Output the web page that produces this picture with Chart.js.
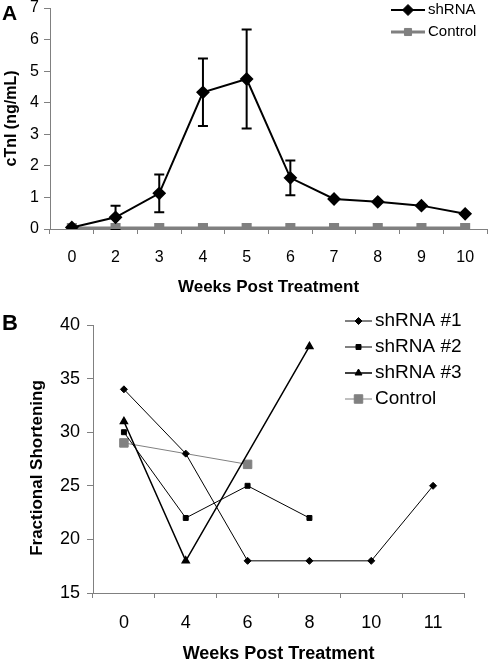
<!DOCTYPE html>
<html>
<head>
<meta charset="utf-8">
<script src="https://cdn.jsdelivr.net/npm/chart.js@4.4.1/dist/chart.umd.min.js"></script>
<style>
  body { margin: 0; background: #fff; width: 495px; height: 663px; position: relative; overflow: hidden; font-family: "Liberation Sans", Arial, sans-serif; }
  canvas { position: absolute; left: 0; }
  #chartA { top: 0; }
  #chartB { top: 300px; }
  .tag { position: absolute; left: 2px; font-weight: bold; line-height: 1; }
</style>
</head>
<body>
<canvas id="chartA" width="495" height="300"></canvas>
<canvas id="chartB" width="495" height="363"></canvas>
<div class="tag" style="top:2px;font-size:21px">A</div>
<div class="tag" style="top:312px;font-size:22px">B</div>
<script>
// --- data: panel A (cTnI) ---
const weeksA = ['0', '2', '3', '4', '5', '6', '7', '8', '9', '10'];
const shrnaA = [0.05, 0.37, 1.13, 4.33, 4.75, 1.62, 0.95, 0.86, 0.74, 0.48];
const shrnaErrA = [0, 0.37, 0.6, 1.07, 1.57, 0.55, 0, 0, 0, 0];
const controlA = [0.03, 0.03, 0.03, 0.03, 0.03, 0.03, 0.03, 0.03, 0.03, 0.03];

// --- data: panel B (fractional shortening) ---
const weeksB = ['0', '4', '6', '8', '10', '11'];
const shrna1B = [34, 28, 18, 18, 18, 25];
const shrna2B = [30, 22, 25, 22, null, null];
const shrna3B = [31, 18, null, 38, null, null];
const controlB = [29, null, 27, null, null, null];

const FONT = '"Liberation Sans", Arial, sans-serif';
const GREY = '#808080';

function drawMarker(ctx, style, x, y, r) {
    ctx.beginPath();
    if (style === 'rectRot') {
        ctx.moveTo(x, y - r); ctx.lineTo(x + r, y); ctx.lineTo(x, y + r); ctx.lineTo(x - r, y);
    } else if (style === 'rect') {
        const s = r * Math.SQRT1_2;
        ctx.rect(x - s, y - s, 2 * s, 2 * s);
    } else if (style === 'triangle') {
        ctx.moveTo(x, y - r); ctx.lineTo(x + r * 0.87, y + r * 0.5); ctx.lineTo(x - r * 0.87, y + r * 0.5);
    }
    ctx.closePath();
    ctx.fill();
    ctx.stroke();
}

// error bars, drawn under the markers
const errorBars = {
    id: 'errorBars',
    beforeDatasetsDraw(chart, args, opts) {
        if (!opts.errors) return;
        const ctx = chart.ctx;
        const ds = chart.data.datasets[opts.datasetIndex];
        const meta = chart.getDatasetMeta(opts.datasetIndex);
        const y = chart.scales.y;
        ctx.save();
        ctx.strokeStyle = '#000';
        ctx.lineWidth = 2;
        meta.data.forEach((pt, i) => {
            const e = opts.errors[i];
            if (!e) return;
            const top = y.getPixelForValue(ds.data[i] + e);
            const bot = y.getPixelForValue(Math.max(ds.data[i] - e, 0));
            ctx.beginPath();
            ctx.moveTo(pt.x, top); ctx.lineTo(pt.x, bot);
            ctx.moveTo(pt.x - 5, top); ctx.lineTo(pt.x + 5, top);
            ctx.moveTo(pt.x - 5, bot); ctx.lineTo(pt.x + 5, bot);
            ctx.stroke();
        });
        ctx.restore();
    }
};

// Excel-like legend: line sample + marker + label
const lineLegend = {
    id: 'lineLegend',
    afterDraw(chart, args, opts) {
        if (!opts.display) return;
        const ctx = chart.ctx;
        ctx.save();
        ctx.font = opts.font;
        ctx.textBaseline = 'middle';
        chart.data.datasets.forEach((ds, i) => {
            const y = opts.y + i * opts.rowHeight;
            ctx.strokeStyle = ds.borderColor;
            ctx.lineWidth = ds.borderWidth;
            ctx.beginPath();
            ctx.moveTo(opts.x, y); ctx.lineTo(opts.x + opts.lineLen, y);
            ctx.stroke();
            ctx.fillStyle = ds.pointBackgroundColor;
            ctx.strokeStyle = ds.pointBorderColor;
            ctx.lineWidth = 1;
            drawMarker(ctx, ds.pointStyle, opts.x + opts.lineLen / 2, y, ds.pointRadius);
            ctx.fillStyle = '#000';
            ctx.fillText(ds.label, opts.x + opts.lineLen + 3, y);
        });
        ctx.restore();
    }
};

// rotated y title that can sit off the plot's centre
const yTitle = {
    id: 'yTitle',
    afterDraw(chart, args, opts) {
        if (!opts.text) return;
        const {ctx, chartArea} = chart;
        ctx.save();
        ctx.translate(opts.x, (chartArea.top + chartArea.bottom) / 2 + opts.dy);
        ctx.rotate(-Math.PI / 2);
        ctx.font = opts.font;
        ctx.textAlign = 'center';
        ctx.textBaseline = 'middle';
        ctx.fillStyle = '#000';
        ctx.fillText(opts.text, 0, 0);
        ctx.restore();
    }
};

function categoryAxis(labels, fontSize, pad, title, titleSize, titlePad, height) {
    return {
        type: 'category',
        labels: labels,
        offset: true,
        grid: { offset: true, drawOnChartArea: false, tickLength: 5, color: GREY },
        border: { color: GREY, width: 1 },
        ticks: { color: '#000', font: { family: FONT, size: fontSize }, padding: pad, maxRotation: 0, autoSkip: false },
        title: { display: true, text: title, color: '#000', font: { family: FONT, size: titleSize, weight: 'bold', lineHeight: 1 }, padding: { top: 0, bottom: titlePad } },
        afterFit: s => { s.height = height; s.paddingLeft = 0; s.paddingRight = 0; }
    };
}

function valueAxis(min, max, step, fontSize, pad, title, titleSize, titlePad, width) {
    return {
        min: min, max: max,
        grid: { drawOnChartArea: false, tickLength: 6, color: GREY },
        border: { color: GREY, width: 1 },
        ticks: { stepSize: step, color: '#000', font: { family: FONT, size: fontSize }, padding: pad },
        title: { display: !!title, text: title || '', color: '#000', font: { family: FONT, size: titleSize, weight: 'bold', lineHeight: 1 }, padding: { top: titlePad, bottom: 0 } },
        afterFit: s => { s.width = width; s.paddingTop = 0; s.paddingBottom = 0; }
    };
}

// --- Panel A ---
new Chart(document.getElementById('chartA'), {
    type: 'line',
    data: {
        labels: weeksA,
        datasets: [
            {
                label: 'shRNA',
                data: shrnaA,
                borderColor: '#000',
                borderWidth: 2,
                pointStyle: 'rectRot',
                pointRadius: 5.5,
                pointBackgroundColor: '#000',
                pointBorderColor: '#000',
                tension: 0
            },
            {
                label: 'Control',
                data: controlA,
                borderColor: GREY,
                borderWidth: 3,
                pointStyle: 'rect',
                pointRadius: 5,
                pointBackgroundColor: GREY,
                pointBorderColor: GREY,
                tension: 0
            }
        ]
    },
    options: {
        responsive: false,
        animation: false,
        devicePixelRatio: 1,
        layout: { padding: { top: 7, right: 3, left: 0, bottom: 0 } },
        plugins: {
            legend: { display: false },
            tooltip: { enabled: false },
            errorBars: { datasetIndex: 0, errors: shrnaErrA },
            lineLegend: { display: true, x: 391, y: 10, rowHeight: 22, lineLen: 34, font: '15px ' + FONT }
        },
        scales: {
            x: categoryAxis(weeksA, 16, 14, 'Weeks Post Treatment', 17, 4, 71),
            y: valueAxis(0, 7, 1, 16, 5, 'cTnI (ng/mL)', 16, 4, 50)
        }
    },
    plugins: [errorBars, lineLegend]
});

// --- Panel B ---
new Chart(document.getElementById('chartB'), {
    type: 'line',
    data: {
        labels: weeksB,
        datasets: [
            {
                label: 'shRNA #1', data: shrna1B,
                borderColor: '#000', borderWidth: 1,
                pointStyle: 'rectRot', pointRadius: 3.5,
                pointBackgroundColor: '#000', pointBorderColor: '#000'
            },
            {
                label: 'shRNA #2', data: shrna2B,
                borderColor: '#000', borderWidth: 1,
                pointStyle: 'rect', pointRadius: 3.5,
                pointBackgroundColor: '#000', pointBorderColor: '#000'
            },
            {
                label: 'shRNA #3', data: shrna3B, spanGaps: true,
                borderColor: '#000', borderWidth: 1.5,
                pointStyle: 'triangle', pointRadius: 4,
                pointBackgroundColor: '#000', pointBorderColor: '#000'
            },
            {
                label: 'Control', data: controlB, spanGaps: true,
                borderColor: GREY, borderWidth: 1,
                pointStyle: 'rect', pointRadius: 6,
                pointBackgroundColor: GREY, pointBorderColor: GREY
            }
        ]
    },
    options: {
        responsive: false,
        animation: false,
        devicePixelRatio: 1,
        layout: { padding: { top: 25, right: 31, left: 0, bottom: 0 } },
        plugins: {
            legend: { display: false },
            tooltip: { enabled: false },
            lineLegend: { display: true, x: 345, y: 21, rowHeight: 26, lineLen: 27, font: '19px ' + FONT },
            yTitle: { text: 'Fractional Shortening', x: 37, dy: 9, font: 'bold 17px ' + FONT }
        },
        scales: {
            x: categoryAxis(weeksB, 18, 14, 'Weeks Post Treatment', 18, 0, 70),
            y: valueAxis(15, 40, 5, 18, 7, null, 17, 0, 93)
        }
    },
    plugins: [lineLegend, yTitle]
});
</script>
</body>
</html>
